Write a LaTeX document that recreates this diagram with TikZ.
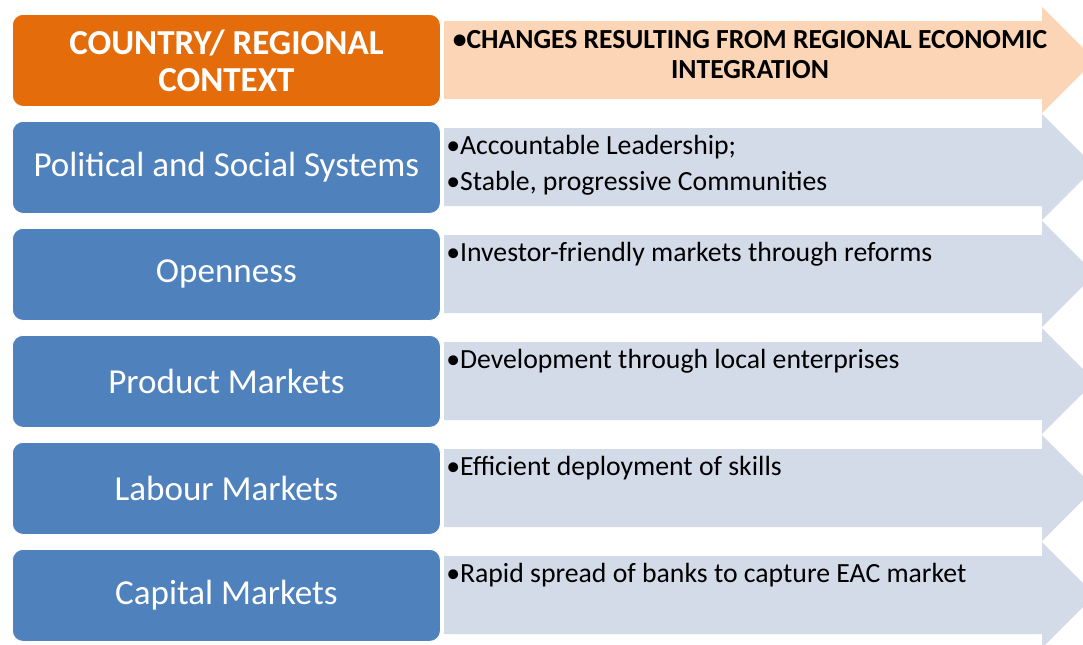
\documentclass[tikz,border=0pt]{standalone}
\usepackage{fontspec}
\setmainfont{Carlito}
\usepackage{tikz}
\usetikzlibrary{positioning}
\definecolor{ctxorange}{HTML}{E46C0A}
\definecolor{ctxblue}{HTML}{4F81BD}
\definecolor{softorange}{HTML}{FBD5B5}
\definecolor{softblue}{HTML}{D3DAE8}
\tikzset{
  factorbox/.style={rounded corners=8pt, fill=ctxblue, draw=white, line width=0.6pt, text=white, align=center, font=\fontsize{26.3}{30}\selectfont, minimum width=321pt, minimum height=69pt, anchor=north west},
  headbox/.style={factorbox, fill=ctxorange, font=\fontsize{26.3}{27.8}\selectfont\bfseries},
  changetext/.style={anchor=north west, align=left, inner sep=0pt, font=\fontsize{20.8}{27}\selectfont},
  headtext/.style={anchor=north, align=center, inner sep=0pt, font=\fontsize{20.7}{22.5}\selectfont\bfseries}
}
% one band arrow: #1 fill colour, #2 top of the arrow body
\newcommand{\bandarrow}[2]{%
  \fill[#1] (444,#2) -- (1042,#2) -- (1042,#2-14) -- (1095,#2+39) -- (1042,#2+92) -- (1042,#2+78) -- (444,#2+78) -- cycle;}

\begin{document}
\begin{tikzpicture}[x=0.75pt, y=-0.75pt]
  \useasboundingbox (0,0) rectangle (1083,644);
  % arrows behind the text
  \bandarrow{softorange}{21}
  \bandarrow{softblue}{128}
  \bandarrow{softblue}{235}
  \bandarrow{softblue}{342}
  \bandarrow{softblue}{449}
  \bandarrow{softblue}{556}
  % left column
  \node[headbox] (context) at (12,14) {COUNTRY/ REGIONAL\\CONTEXT};
  \node[factorbox] (political) at (12,121) {Political and Social Systems};
  \node[factorbox] (openness) at (12,228) {Openness};
  \node[factorbox] (product) at (12,335) {Product Markets};
  \node[factorbox] (labour) at (12,442) {Labour Markets};
  \node[factorbox] (capital) at (12,549) {Capital Markets};
  % right column
  \node[headtext] (changes) at (750,30) {\textbullet CHANGES RESULTING FROM REGIONAL ECONOMIC\\INTEGRATION};
  \node[changetext] (leadership) at (446,135) {\textbullet Accountable Leadership;\\\textbullet Stable, progressive Communities};
  \node[changetext] (investor) at (446,242) {\textbullet Investor-friendly markets through reforms};
  \node[changetext] (enterprise) at (446,349) {\textbullet Development through local enterprises};
  \node[changetext] (skills) at (446,456) {\textbullet Efficient deployment of skills};
  \node[changetext] (banks) at (446,563) {\textbullet Rapid spread of banks to capture EAC market};
\end{tikzpicture}
\end{document}
